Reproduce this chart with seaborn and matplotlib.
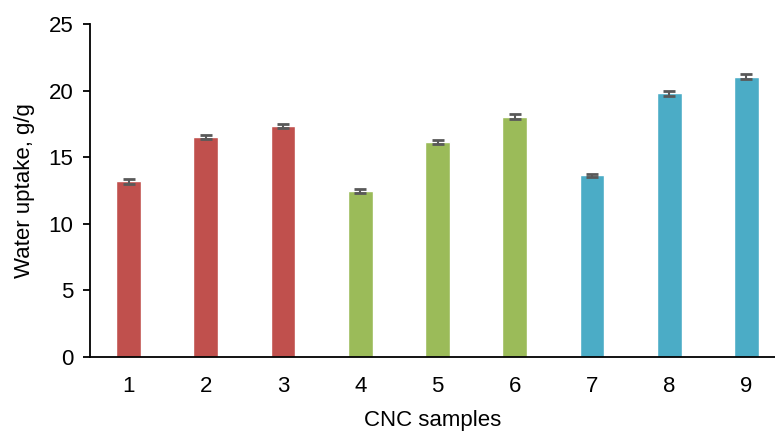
#!/usr/bin/env python
# encoding: utf-8

import numpy as np
import pandas as pd
import matplotlib
matplotlib.use("Agg")
import matplotlib.pyplot as plt
import seaborn as sns


samples = ["1", "2", "3", "4", "5", "6", "7", "8", "9"]
uptake = [13.2, 16.5, 17.35, 12.45, 16.15, 18.05, 13.65, 19.8, 21.05]
uptake_err = [0.18, 0.17, 0.18, 0.15, 0.16, 0.18, 0.12, 0.2, 0.2]
groups = ["A", "A", "A", "B", "B", "B", "C", "C", "C"]
group_colours = {"A": "#C0504D", "B": "#9BBB59", "C": "#4BACC6"}


def main():
    sns.set_style("white")
    plt.rcParams["font.family"] = ["Liberation Sans", "DejaVu Sans"]
    plt.rcParams["text.color"] = "black"
    plt.rcParams["axes.labelcolor"] = "black"
    plt.rcParams["xtick.color"] = "black"
    plt.rcParams["ytick.color"] = "black"

    df = pd.DataFrame({"sample": samples, "uptake": uptake,
                       "err": uptake_err, "group": groups})

    fig = plt.figure(figsize=(7.75, 4.32), dpi=100)
    ax = fig.add_axes([90 / 775, 1 - 357 / 432, 685 / 775, 333 / 432])

    sns.barplot(data=df, x="sample", y="uptake", hue="group",
                palette=group_colours, dodge=False, width=0.32,
                saturation=1, legend=False, ax=ax)

    # error bars drawn on top at the category positions
    ax.errorbar(np.arange(len(samples)), df["uptake"], yerr=df["err"],
                fmt="none", ecolor="#595959", elinewidth=1.5,
                capsize=4.6, capthick=2)

    ax.set_ylim(0, 25)
    ax.set_yticks([0, 5, 10, 15, 20, 25])
    ax.set_xlim(-0.5, 8.37)

    for side in ["top", "right"]:
        ax.spines[side].set_visible(False)
    for side in ["left", "bottom"]:
        ax.spines[side].set_color("black")
        ax.spines[side].set_linewidth(1.3)

    ax.tick_params(axis="y", direction="out", length=5, width=1.3,
                   labelsize=16, pad=7, left=True)
    ax.tick_params(axis="x", length=0, labelsize=16, pad=14)

    ax.set_xlabel("CNC samples", fontsize=16, labelpad=9)
    ax.set_ylabel("Water uptake, g/g", fontsize=16, labelpad=10)

    plt.savefig("out.png", dpi=100)


if __name__ == '__main__':
    main()
